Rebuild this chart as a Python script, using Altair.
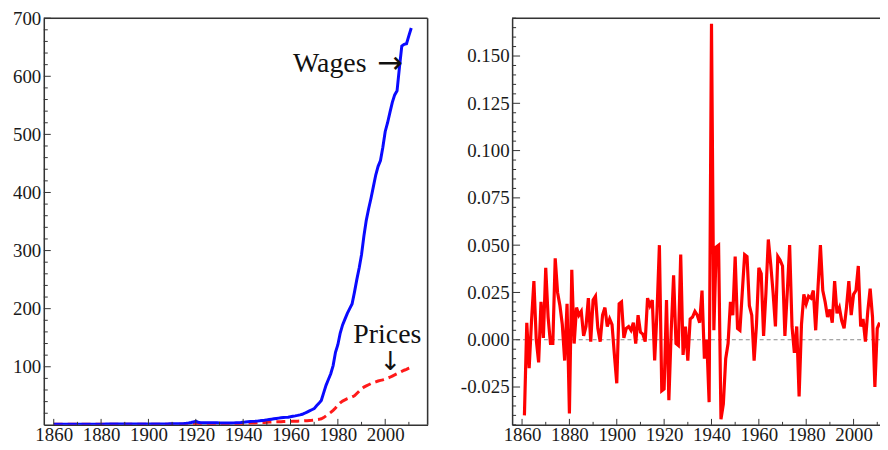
import altair as alt
import pandas as pd

# ---------------- data ----------------
years = list(range(1860, 2012))
wages = [
    0.9, 0.9, 0.9, 0.9, 1.0, 1.0, 1.0, 1.0, 1.0, 1.0,
    1.1, 1.1, 1.1, 1.1, 1.2, 1.2, 1.2, 1.2, 1.2, 1.2,
    1.2, 1.2, 1.3, 1.3, 1.3, 1.3, 1.3, 1.3, 1.4, 1.4,
    1.4, 1.4, 1.4, 1.4, 1.5, 1.5, 1.5, 1.5, 1.5, 1.5,
    1.5, 1.6, 1.6, 1.6, 1.6, 1.7, 1.7, 1.7, 1.7, 1.8,
    1.8, 1.8, 1.9, 1.9, 2.0, 2.2, 2.6, 3.2, 4.0, 5.0,
    6.0, 4.5, 3.6, 3.5, 3.5, 3.5, 3.5, 3.5, 3.5, 3.5,
    3.4, 3.2, 3.0, 3.0, 3.1, 3.2, 3.4, 3.6, 3.7, 3.9,
    4.3, 4.8, 5.3, 5.8, 6.0, 6.1, 6.4, 6.9, 7.5, 8.0,
    8.6, 9.2, 9.8, 10.4, 11.0, 11.6, 12.2, 12.6, 12.9, 13.2,
    14.0, 14.8, 15.5, 16.3, 17.2, 18.2, 20.0, 22.0, 24.0, 26.0,
    28.0, 33.0, 37.0, 42.0, 55.0, 68.0, 78.0, 88.0, 102.0, 125.0,
    138.0, 158.0, 172.0, 182.0, 192.0, 200.0, 208.0, 228.0, 250.0, 270.0,
    293.0, 325.0, 352.0, 372.0, 390.0, 410.0, 430.0, 445.0, 455.0, 478.0,
    505.0, 520.0, 538.0, 555.0, 568.0, 575.0, 615.0, 652.0, 655.0, 656.0,
    670.0, 683.0,
]
prices = [
    0.9, 0.9, 0.9, 0.9, 1.0, 1.0, 1.0, 1.0, 0.9, 0.9,
    0.9, 0.9, 0.9, 0.9, 0.9, 0.9, 0.9, 0.9, 0.9, 0.9,
    0.9, 0.9, 0.9, 0.9, 0.9, 0.9, 0.9, 0.9, 0.9, 0.9,
    0.9, 0.9, 0.9, 0.9, 0.9, 0.9, 0.9, 0.9, 0.9, 0.9,
    1.0, 1.0, 1.0, 1.0, 1.0, 1.0, 1.0, 1.0, 1.0, 1.0,
    1.0, 1.0, 1.0, 1.0, 1.1, 1.3, 1.5, 1.8, 2.1, 2.4,
    2.6, 2.3, 2.1, 2.1, 2.1, 2.1, 2.1, 2.1, 2.1, 2.1,
    2.0, 1.9, 1.8, 1.8, 1.8, 1.8, 1.9, 1.9, 2.0, 2.0,
    2.3, 2.6, 2.9, 3.1, 3.2, 3.3, 3.4, 3.7, 3.9, 4.1,
    4.3, 4.8, 5.0, 5.1, 5.2, 5.3, 5.5, 5.7, 5.8, 5.9,
    6.0, 6.1, 6.2, 6.4, 6.5, 6.7, 7.0, 7.2, 7.5, 7.8,
    8.3, 8.9, 9.5, 10.5, 12.5, 15.5, 18.5, 21.5, 25.0, 29.0,
    34.0, 38.0, 41.0, 43.0, 45.0, 46.5, 48.0, 50.0, 54.0, 58.0,
    62.0, 65.0, 67.0, 69.0, 71.0, 72.5, 74.0, 75.5, 76.5, 77.5,
    79.0, 80.5, 82.0, 84.0, 86.0, 88.0, 90.0, 92.0, 94.0, 95.5,
    97.5, 99.0,
]
growth_years = list(range(1861, 2012))
growth = [
    -0.040, 0.009, -0.015, 0.010, 0.031, 0.000, -0.012, 0.020, 0.001, 0.038,
    0.012, -0.002, -0.002, 0.043, 0.025, 0.018, 0.008, -0.011, 0.019, -0.039,
    0.037, -0.002, 0.017, 0.013, 0.015, 0.002, 0.007, 0.022, -0.001, 0.021,
    0.023, 0.006, -0.001, 0.013, 0.017, 0.007, 0.011, 0.008, -0.008, -0.023,
    0.019, 0.020, 0.001, 0.006, 0.007, 0.005, 0.009, -0.002, 0.013, 0.004,
    0.003, -0.001, 0.022, 0.018, 0.021, -0.011, 0.015, 0.050, -0.027, -0.026,
    0.021, -0.032, 0.005, 0.034, -0.002, -0.003, 0.045, -0.008, 0.007, -0.011,
    0.011, 0.012, 0.015, 0.013, 0.009, 0.026, -0.010, 0.000, -0.033, 0.167,
    0.005, 0.049, 0.050, -0.042, -0.034, -0.010, -0.002, 0.020, 0.013, 0.044,
    0.006, 0.005, 0.025, 0.045, 0.044, 0.018, 0.013, -0.011, 0.008, 0.038,
    0.035, 0.002, 0.025, 0.053, 0.040, 0.025, 0.007, 0.044, 0.042, 0.039,
    0.002, 0.025, 0.050, 0.007, -0.007, 0.007, -0.030, 0.008, 0.024, 0.019,
    0.023, 0.022, 0.026, 0.005, 0.028, 0.050, 0.026, 0.020, 0.012, 0.016,
    0.009, 0.031, 0.014, 0.017, 0.010, 0.006, 0.017, 0.031, 0.013, 0.024,
    0.026, 0.039, 0.007, 0.011, -0.001, 0.015, 0.027, 0.012, -0.025, 0.006,
    0.009,
]

x_labels = [1860, 1880, 1900, 1920, 1940, 1960, 1980, 2000]
x_major_ticks = [1860, 1880, 1900, 1920, 1940, 1960, 1980, 2000]
x_minor_ticks = [1870, 1890, 1910, 1930, 1950, 1970, 1990, 2010]
yl_labels = [100, 200, 300, 400, 500, 600, 700]
yl_minor = [v for v in range(20, 700, 20) if v % 100 != 0]
yr_labels = [-0.025, 0.0, 0.025, 0.05, 0.075, 0.1, 0.125, 0.15]
yr_minor = [round(-0.045 + 0.005 * i, 3) for i in range(44)]
yr_minor = [v for v in yr_minor if abs(v / 0.025 - round(v / 0.025)) > 1e-6]

wages_label = pd.DataFrame({"year": [1992.1], "value": [608.0], "label": ["Wages"]})
prices_label = pd.DataFrame({"year": [2000.9], "value": [141.0], "label": ["Prices"]})
arrow_right = pd.DataFrame({"year": [2002.0], "value": [621.0], "label": ["→"]})
arrow_down = pd.DataFrame({"year": [2002.2], "value": [108.0], "label": ["↓"]})

# ---------------- style ----------------
FONT = "Liberation Serif"
AX = "#333333"
XL = [1855.8, 2017.9]
XR = [1855.8, 2012.0]
YL = [0, 700]
YR = [-0.045, 0.170]
WL, WR, H = 386, 372, 409

df_lvl = pd.DataFrame({"year": years, "wages": wages, "prices": prices})
df_g = pd.DataFrame({"year": growth_years, "growth": growth})

xsL = alt.Scale(domain=XL, nice=False, zero=False)
ysL = alt.Scale(domain=YL, nice=False, zero=False)
xsR = alt.Scale(domain=XR, nice=False, zero=False)
ysR = alt.Scale(domain=YR, nice=False, zero=False)

X_AXIS = alt.Axis(values=x_labels, format="d", title="")
YL_AXIS = alt.Axis(values=yl_labels, format="d", title="")
YR_AXIS = alt.Axis(values=yr_labels, format=".3f", title="",
                   labelExpr="replace(datum.label, '\u2212', '-')")


def X(field, sc, ax):
    return alt.X(field, type="quantitative", scale=sc, axis=ax)


def Y(field, sc, ax):
    return alt.Y(field, type="quantitative", scale=sc, axis=ax)


def tick_layers(xs, ys, xax, yax, ymajor, yminor, ymaj_len):
    layers = []
    for vals, ln in ((x_major_ticks, 6), (x_minor_ticks, 3)):
        layers.append(
            alt.Chart(pd.DataFrame({"year": vals})).mark_rule(color=AX, strokeWidth=1).encode(
                x=X("year", xs, xax),
                y=alt.value(H), y2=alt.value(H - ln)))
    for vals, ln in ((ymajor, ymaj_len), (yminor, 4)):
        layers.append(
            alt.Chart(pd.DataFrame({"value": vals})).mark_rule(color=AX, strokeWidth=1).encode(
                y=Y("value", ys, yax),
                x=alt.value(0), x2=alt.value(ln)))
    return layers


# ---------------- left panel ----------------
prices_line = alt.Chart(df_lvl).mark_line(
    color="#ff1a1a", strokeWidth=3, strokeDash=[9, 5], clip=True).encode(
    x=X("year", xsL, X_AXIS), y=Y("prices", ysL, YL_AXIS))
wages_line = alt.Chart(df_lvl).mark_line(color="#0a0aff", strokeWidth=3, clip=True).encode(
    x=X("year", xsL, X_AXIS), y=Y("wages", ysL, YL_AXIS))
top_l = alt.Chart(pd.DataFrame({"value": [YL[1]]})).mark_rule(color=AX, strokeWidth=1.5).encode(
    y=Y("value", ysL, YL_AXIS))
right_l = alt.Chart(pd.DataFrame({"year": [XL[1]]})).mark_rule(color=AX, strokeWidth=1.5).encode(
    x=X("year", xsL, X_AXIS))
txt_w = alt.Chart(wages_label).mark_text(
    font=FONT, fontSize=28, align="right", baseline="alphabetic", color="#111").encode(
    x=X("year", xsL, X_AXIS), y=Y("value", ysL, YL_AXIS), text="label:N")
txt_p = alt.Chart(prices_label).mark_text(
    font=FONT, fontSize=28, align="center", baseline="alphabetic", color="#111").encode(
    x=X("year", xsL, X_AXIS), y=Y("value", ysL, YL_AXIS), text="label:N")
arr_r = alt.Chart(arrow_right).mark_text(
    font="DejaVu Sans", fontSize=31, baseline="middle", color="#111").encode(
    x=X("year", xsL, X_AXIS), y=Y("value", ysL, YL_AXIS), text="label:N")
arr_d = alt.Chart(arrow_down).mark_text(
    font="DejaVu Sans", fontSize=26, baseline="middle", color="#111").encode(
    x=X("year", xsL, X_AXIS), y=Y("value", ysL, YL_AXIS), text="label:N")

left = alt.layer(
    prices_line, wages_line, top_l, right_l, txt_w, txt_p, arr_r, arr_d,
    *tick_layers(xsL, ysL, X_AXIS, YL_AXIS, yl_labels, yl_minor, 7),
).properties(width=WL, height=H)

# ---------------- right panel ----------------
zero_line = alt.Chart(pd.DataFrame({"value": [0.0]})).mark_rule(
    color="#8a8a8a", strokeWidth=1, strokeDash=[4, 3]).encode(
    y=Y("value", ysR, YR_AXIS))
growth_line = alt.Chart(df_g).mark_line(color="#ff0000", strokeWidth=3.2, clip=True).encode(
    x=X("year", xsR, X_AXIS), y=Y("growth", ysR, YR_AXIS))
top_r = alt.Chart(pd.DataFrame({"value": [YR[1]]})).mark_rule(color=AX, strokeWidth=1.5).encode(
    y=Y("value", ysR, YR_AXIS))

right = alt.layer(
    zero_line, growth_line, top_r,
    *tick_layers(xsR, ysR, X_AXIS, YR_AXIS, yr_labels, yr_minor, 8),
).properties(width=WR, height=H)

chart = alt.hconcat(left, right, spacing=30).properties(
    padding={"left": 4, "top": -1, "right": -4, "bottom": -4}
).configure_view(strokeWidth=0).configure(background="white").configure_axis(
    ticks=False, grid=False, domain=True, domainColor=AX, domainWidth=1.5,
    labelFont=FONT, labelFontSize=19, labelColor="#1a1a1a",
    labelOverlap=False, labelFlush=False,
).configure_axisX(labelPadding=1).configure_axisY(labelPadding=3)

chart.save("out.html", embed_options={"renderer": "svg", "actions": False})
